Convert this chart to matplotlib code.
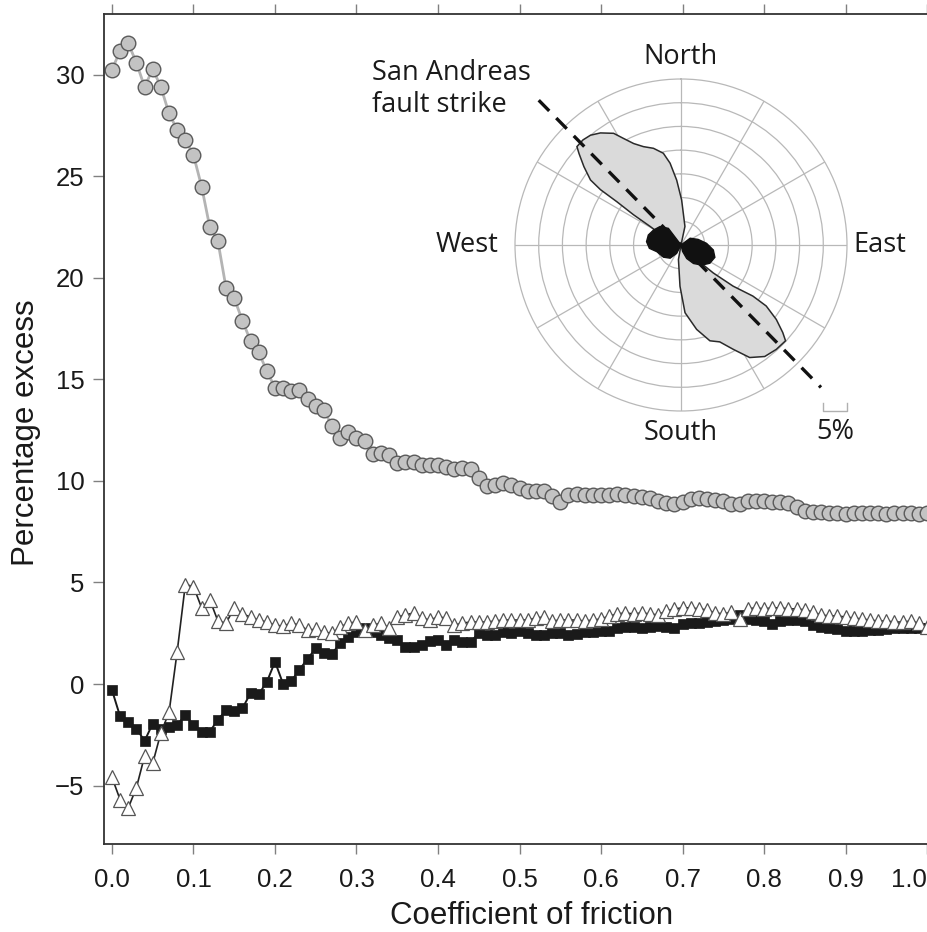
import numpy as np
import matplotlib
matplotlib.use("Agg")
import matplotlib.pyplot as plt

plt.rcParams['font.family'] = ['Liberation Sans', 'DejaVu Sans']

# coefficient of friction, 0.00 .. 1.00 in steps of 0.01
friction = np.linspace(0.0, 1.0, 101)

# grey circles
circles = [30.25, 31.2, 31.55, 30.6, 29.4, 30.3, 29.4, 28.1, 27.3, 26.8,
           26.05, 24.5, 22.5, 21.8, 19.5, 19.0, 17.9, 16.9, 16.35, 15.4,
           14.6, 14.6, 14.45, 14.5, 14.05, 13.7, 13.5, 12.7, 12.1, 12.4,
           12.1, 11.95, 11.35, 11.4, 11.3, 10.9, 10.95, 10.95, 10.8, 10.8,
           10.8, 10.7, 10.6, 10.65, 10.6, 10.15, 9.75, 9.8, 9.9, 9.8,
           9.65, 9.5, 9.5, 9.5, 9.25, 8.98, 9.3, 9.35, 9.3, 9.3,
           9.3, 9.3, 9.35, 9.3, 9.25, 9.2, 9.15, 9.0, 8.9, 8.85,
           8.95, 9.1, 9.15, 9.1, 9.05, 9.0, 8.85, 8.85, 9.0, 9.0,
           9.0, 8.95, 8.95, 8.9, 8.7, 8.5, 8.45, 8.45, 8.42, 8.4,
           8.38, 8.4, 8.42, 8.4, 8.4, 8.38, 8.4, 8.42, 8.4, 8.38,
           8.4]

# open triangles
triangles = [-4.6, -5.7, -6.1, -5.1, -3.55, -3.9, -2.4, -1.4, 1.6, 4.9,
             4.8, 3.75, 4.15, 3.1, 3.0, 3.75, 3.45, 3.3, 3.15, 3.05,
             2.9, 2.85, 3.0, 2.9, 2.65, 2.7, 2.55, 2.5, 2.8, 3.0,
             3.05, 2.65, 2.9, 3.0, 2.75, 3.3, 3.4, 3.5, 3.25, 3.15,
             3.3, 3.25, 2.9, 3.0, 3.05, 3.05, 3.05, 3.1, 3.15, 3.15,
             3.15, 3.15, 3.25, 3.3, 3.1, 3.15, 3.15, 3.15, 3.1, 3.15,
             3.2, 3.35, 3.45, 3.5, 3.45, 3.5, 3.45, 3.4, 3.6, 3.7,
             3.75, 3.75, 3.7, 3.65, 3.5, 3.45, 3.55, 3.2, 3.7, 3.75,
             3.7, 3.75, 3.75, 3.7, 3.7, 3.65, 3.55, 3.4, 3.35, 3.35,
             3.3, 3.25, 3.2, 3.15, 3.1, 3.1, 3.05, 3.05, 3.1, 3.0,
             2.8]

# black squares
squares = [-0.3, -1.6, -1.85, -2.2, -2.8, -1.95, -2.2, -2.1, -2.0, -1.55,
           -2.0, -2.35, -2.35, -1.75, -1.3, -1.35, -1.2, -0.45, -0.5, 0.1,
           1.1, 0.0, 0.15, 0.7, 1.25, 1.75, 1.55, 1.5, 2.0, 2.3,
           2.58, 2.74, 2.58, 2.41, 2.25, 2.17, 1.84, 1.8, 1.92, 2.12,
           2.17, 1.92, 2.17, 2.08, 2.08, 2.5, 2.41, 2.41, 2.58, 2.5,
           2.63, 2.53, 2.41, 2.41, 2.5, 2.5, 2.41, 2.45, 2.55, 2.55,
           2.6, 2.6, 2.75, 2.8, 2.8, 2.75, 2.8, 2.85, 2.8, 2.75,
           2.95, 3.0, 3.0, 3.05, 3.1, 3.15, 3.2, 3.4, 3.2, 3.15,
           3.1, 2.95, 3.1, 3.15, 3.15, 3.1, 2.9, 2.8, 2.75, 2.7,
           2.6, 2.6, 2.6, 2.65, 2.65, 2.7, 2.75, 2.75, 2.75, 2.75,
           2.75]

xticks = [0.0, 0.1, 0.2, 0.3, 0.4, 0.5, 0.6, 0.7, 0.8, 0.9, 1.0]
yticks = [-5, 0, 5, 10, 15, 20, 25, 30]

# rose diagram (compass azimuth in degrees, radius in %)
rose_az = [-64, -64, -62, -59, -57.5, -56, -55.5, -54.3, -51.1, -48.1, -46.6,
           -43, -39.5, -35.7, -31.1, -28.3, -25, -20.9, -15.9, -10.9, -7.6,
           -3.8, 0.8, 12, 20,
           133, 133, 130.9, 128.3, 125.4, 125.6, 128, 130.7, 132.5, 137.6,
           143.1, 148.6, 153.4, 158.2, 163.2, 169.5, 176.6, 181.4, 190, 200]
rose_r = [0, 1.8, 4.9, 7.6, 11.9, 16.3, 20.6, 23.5, 26.3, 28.9, 30.2,
          30.3, 30.0, 29.1, 27.5, 25.5, 23.6, 22.2, 21.2, 19.7, 17.4,
          13.7, 9.5, 4.0, 0,
          0, 4.5, 9.0, 14.0, 18.6, 22.1, 25.5, 28.3, 29.9, 29.8,
          29.4, 27.8, 24.6, 22.0, 21.1, 18.1, 14.3, 8.7, 3.1, 0]

west_az = [-20, -37.2, -48.9, -61.5, -73, -84.5, -96, -105.3, -124.9, -140.5, -152.5, -160]
west_r = [0, 4.4, 5.9, 6.6, 7.2, 7.3, 6.7, 5.3, 4.5, 3.6, 2.0, 0]
east_az = [30, 53.5, 71.9, 86.3, 98.8, 110, 122.3, 134, 146, 157, 166, 175]
east_r = [0, 2.4, 3.8, 5.4, 6.9, 7.6, 7.2, 6.1, 4.7, 3.1, 1.4, 0]

strike_az = -44.5      # San Andreas fault strike
strike_len = [42.8, 42.1]
rose_max = 35
scale_pct = 5

fig = plt.figure(figsize=(9.28, 9.32), dpi=100)
ax = fig.add_axes([104/928, 88/932, 824/928, 830/932])

ax.plot(friction, circles, color='#b4b4b4', lw=2.0, zorder=2,
        marker='o', ms=10.5, mfc='#c3c3c3', mec='#5a5a5a', mew=1.0)
ax.plot(friction, squares, color='#1a1a1a', lw=1.4, zorder=3,
        marker='s', ms=6.5, mfc='#1a1a1a', mec='#1a1a1a', mew=0.5)
ax.plot(friction, triangles, color='#222222', lw=1.2, zorder=4,
        marker='^', ms=10, mfc='white', mec='#555555', mew=0.9)

ax.set_xlim(-0.0098, 1.0012)
ax.set_ylim(-7.88, 33.0)
ax.set_xticks(xticks)
ax.set_xticklabels(['%.1f' % t for t in xticks])
ax.set_yticks(yticks)
ax.tick_params(axis='both', direction='out', color='#808080', width=1.0,
               labelsize=18.5, labelcolor='#1a1a1a')
ax.tick_params(axis='x', length=7, pad=10, top=True)
ax.tick_params(axis='y', length=8, pad=6)
# last label sits at the figure edge
ax.get_xticklabels()[-1].set_horizontalalignment('right')
for side in ['left', 'bottom', 'top']:
    ax.spines[side].set_color('#333333')
    ax.spines[side].set_linewidth(1.3)
ax.spines['right'].set_visible(False)

ax.set_xlabel('Coefficient of friction', fontsize=22.5, color='#1a1a1a')
ax.xaxis.set_label_coords(0.519, -0.069)
ax.set_ylabel('Percentage excess', fontsize=22.5, color='#1a1a1a')
ax.yaxis.set_label_coords(-0.076, 0.496)

# rose inset
cx, cy, rad = 681, 245, 166
pax = fig.add_axes([(cx - rad)/928, 1 - (cy + rad)/932, 2*rad/928, 2*rad/932],
                   projection='polar')
pax.set_theta_zero_location('N')
pax.set_theta_direction(-1)
pax.set_ylim(0, rose_max)
pax.set_yticks(np.arange(5, rose_max, 5))
pax.set_xticks(np.radians(np.arange(0, 360, 30)))
pax.set_xticklabels([])
pax.set_yticklabels([])
pax.grid(True, color='#b8b8b8', lw=0.9)
pax.spines['polar'].set_color('#b8b8b8')
pax.spines['polar'].set_linewidth(0.9)
pax.set_facecolor('white')

pax.fill(np.radians(rose_az), rose_r, facecolor='#dadada', edgecolor='#2a2a2a',
         lw=1.1, zorder=3)
pax.fill(np.radians(west_az), west_r, facecolor='#111111', edgecolor='#111111',
         lw=1.0, zorder=4)
pax.fill(np.radians(east_az), east_r, facecolor='#111111', edgecolor='#111111',
         lw=1.0, zorder=4)

a = np.radians(strike_az)
x1 = 0.5 + 0.5*strike_len[0]/rose_max*np.sin(a)
y1 = 0.5 + 0.5*strike_len[0]/rose_max*np.cos(a)
x2 = 0.5 - 0.5*strike_len[1]/rose_max*np.sin(a)
y2 = 0.5 - 0.5*strike_len[1]/rose_max*np.cos(a)
pax.plot([x1, x2], [y1, y2], transform=pax.transAxes, clip_on=False,
         color='#111111', lw=2.4, dashes=(4.5, 3.0), zorder=5)

tf = dict(family=['Open Sans', 'DejaVu Sans'], fontsize=19.5, color='#1a1a1a')
pax.text(0.5, 1.066, 'North', transform=pax.transAxes, ha='center', va='center', **tf)
pax.text(0.5, -0.066, 'South', transform=pax.transAxes, ha='center', va='center', **tf)
pax.text(-0.05, 0.5, 'West', transform=pax.transAxes, ha='right', va='center', **tf)
pax.text(1.02, 0.5, 'East', transform=pax.transAxes, ha='left', va='center', **tf)
pax.text(-0.43, 0.97, 'San Andreas\nfault strike', transform=pax.transAxes,
         ha='left', va='center', linespacing=1.15, **tf)

# 5% scale bar
sb = scale_pct/rose_max*0.5
x0 = 1.0 - sb
pax.plot([x0, x0, 1.0, 1.0], [0.025, 0.0, 0.0, 0.025], transform=pax.transAxes,
         clip_on=False, color='#b0b0b0', lw=1.0)
pax.text(x0 + sb/2, -0.063, '5%', transform=pax.transAxes, ha='center',
         va='center', **tf)

fig.savefig('out.png', dpi=100)
